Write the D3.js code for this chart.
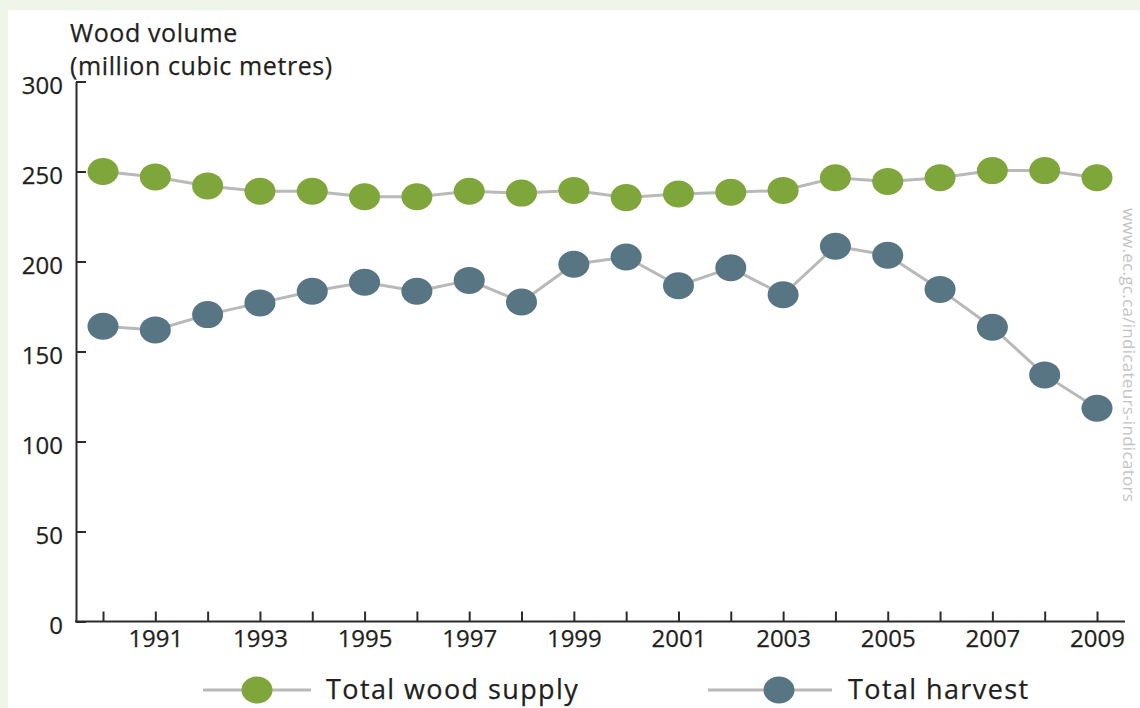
<!DOCTYPE html>
<html>
<head>
<meta charset="utf-8">
<script src="https://cdn.jsdelivr.net/npm/d3@7"></script>
<style>
  html, body { margin: 0; padding: 0; background: #f0f5ea; }
  svg { display: block; }
  text { font-family: "Open Sans", "Noto Sans", sans-serif; fill: #231f20; }
</style>
</head>
<body>
<svg id="chart" width="1140" height="708"></svg>
<script>
const years = [1990,1991,1992,1993,1994,1995,1996,1997,1998,1999,2000,2001,2002,2003,2004,2005,2006,2007,2008,2009];
const totalWoodSupply = [250,247,242,239,239,236,236,239,238,239.5,235.5,237.5,238.5,239.5,246.5,244.5,246.5,250.5,250.5,246.5];
const totalHarvest = [164,162,170.5,177,183.5,188.5,183.5,189.5,177.5,198.5,202.5,186.5,196.5,181.5,208.5,203.5,184.5,163.5,137,118.5];
const yTicks = [0,50,100,150,200,250,300];
const xLabelYears = [1991,1993,1995,1997,1999,2001,2003,2005,2007,2009];
const seriesNames = ["Total wood supply", "Total harvest"];
const seriesColors = ["#7fa63b", "#587584"];
const titleLines = ["Wood volume", "(million cubic metres)"];
const sourceText = "www.ec.gc.ca/indicateurs-indicators";

const svg = d3.select("#chart");
svg.append("rect").attr("x", 8).attr("y", 10).attr("width", 1132).attr("height", 698).attr("fill", "#ffffff");

const x = d3.scaleLinear().domain([1990, 2009]).range([103, 1097]);
const y = d3.scaleLinear().domain([0, 300]).range([621.5, 81.5]);
const axisX0 = 76;
const ink = "#231f20";

// Title
titleLines.forEach((t, i) => {
  svg.append("text").attr("x", 70).attr("y", 42 + i * 33).attr("font-size", 25)
    .attr("letter-spacing", 0.6).attr("stroke", ink).attr("stroke-width", 0.25).text(t);
});

// Y axis
const yAxis = d3.axisLeft(y).tickValues(yTicks).tickSizeInner(-10).tickSizeOuter(0).tickPadding(13);
const gy = svg.append("g").attr("transform", `translate(${axisX0},0)`).call(yAxis);
gy.select(".domain").attr("stroke", "#2b2b2b").attr("stroke-width", 2);
gy.selectAll(".tick line").attr("stroke", "#2b2b2b").attr("stroke-width", 2);
gy.selectAll(".tick text").attr("font-size", 24).attr("font-family", null).attr("dy", "0.5em")
  .attr("fill", ink).attr("stroke", ink).attr("stroke-width", 0.25);

// X axis
const xAxis = d3.axisBottom(x).tickValues(years).tickSizeInner(-10).tickSizeOuter(0).tickPadding(8)
  .tickFormat(d => xLabelYears.includes(d) ? String(d) : "");
const gx = svg.append("g").attr("transform", `translate(0,${y(0)})`).call(xAxis);
gx.select(".domain").attr("d", `M${axisX0 - 1},0H1125`).attr("stroke", "#2b2b2b").attr("stroke-width", 2);
gx.selectAll(".tick line").attr("stroke", "#2b2b2b").attr("stroke-width", 2);
gx.selectAll(".tick text").attr("font-size", 24).attr("font-family", null)
  .attr("fill", ink).attr("stroke", ink).attr("stroke-width", 0.25);

// Series
const allSeries = [totalWoodSupply, totalHarvest];
const line = d3.line().x((d, i) => x(years[i])).y(d => y(d));
allSeries.forEach((vals, si) => {
  svg.append("path").datum(vals).attr("d", line).attr("fill", "none")
    .attr("stroke", "#b9b9b9").attr("stroke-width", 3);
  svg.append("g").selectAll("ellipse").data(vals).join("ellipse")
    .attr("cx", (d, i) => x(years[i])).attr("cy", d => y(d))
    .attr("rx", 15.5).attr("ry", 13.5).attr("fill", seriesColors[si]);
});

// Legend
const legendItems = [
  {lineX0: 203, lineX1: 311, cx: 257, tx: 326},
  {lineX0: 708, lineX1: 832, cx: 779, tx: 848}
];
const ly = 690;
legendItems.forEach((it, i) => {
  svg.append("line").attr("x1", it.lineX0).attr("x2", it.lineX1).attr("y1", ly).attr("y2", ly)
    .attr("stroke", "#b9b9b9").attr("stroke-width", 3);
  svg.append("ellipse").attr("cx", it.cx).attr("cy", ly).attr("rx", 15.5).attr("ry", 13.5).attr("fill", seriesColors[i]);
  svg.append("text").attr("x", it.tx).attr("y", ly + 9).attr("font-size", 27)
    .attr("letter-spacing", 1.4).attr("stroke", ink).attr("stroke-width", 0.25).text(seriesNames[i]);
});

// Source watermark
svg.append("text").attr("transform", "translate(1123,208) rotate(90)")
  .attr("font-size", 17).attr("letter-spacing", 0.3).style("fill", "#c4c4c4").text(sourceText);
</script>
</body>
</html>
